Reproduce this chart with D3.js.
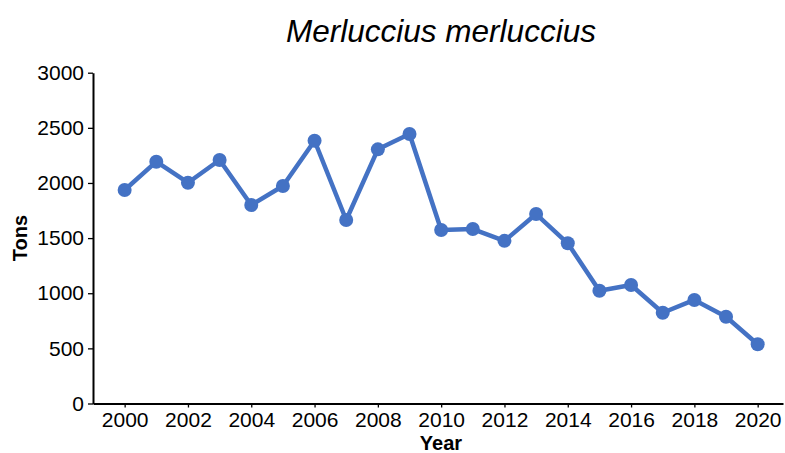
<!DOCTYPE html>
<html>
<head>
<meta charset="utf-8">
<script src="https://cdn.jsdelivr.net/npm/d3@7"></script>
<style>
  html, body { margin: 0; padding: 0; background: #fff; }
  text { font-family: "Liberation Sans", Arial, sans-serif; }
</style>
</head>
<body>
<svg id="chart" width="785" height="453"></svg>
<script>
const years = [2000,2001,2002,2003,2004,2005,2006,2007,2008,2009,2010,2011,2012,2013,2014,2015,2016,2017,2018,2019,2020];
const tons = [1936,2193,2002,2208,1800,1972,2383,1664,2305,2444,1573,1582,1475,1718,1453,1023,1075,823,939,787,537];
const xTicks = [2000,2002,2004,2006,2008,2010,2012,2014,2016,2018,2020];
const yTicks = [0,500,1000,1500,2000,2500,3000];
const title = "Merluccius merluccius";
const xLabel = "Year";
const yLabel = "Tons";

const svg = d3.select("#chart");
const x = d3.scaleLinear().domain([1999, 2020.8]).range([93, 783]);
const y = d3.scaleLinear().domain([0, 3000]).range([403.5, 72.7]);
const color = "#4472C4";

const xAxis = svg.append("g").attr("transform", `translate(0,${y(0)})`)
  .call(d3.axisBottom(x).tickValues(xTicks).tickFormat(d3.format("d")).tickSize(4).tickSizeOuter(0));
const yAxis = svg.append("g").attr("transform", `translate(${x(1999)},0)`)
  .call(d3.axisLeft(y).tickValues(yTicks).tickFormat(d3.format("d")).tickSize(5).tickSizeOuter(0));

[xAxis, yAxis].forEach(g => {
  g.select(".domain").attr("stroke", "#000").attr("stroke-width", 2);
  g.selectAll(".tick line").attr("stroke", "#000").attr("stroke-width", 1.3);
  g.selectAll(".tick text").attr("fill", "#000").style("font-size", "21px")
    .style("font-family", "'Liberation Sans', Arial, sans-serif");
});
xAxis.selectAll(".tick text").attr("dy", "0.71em").attr("y", 9);
yAxis.selectAll(".tick text").attr("x", -9);

const line = d3.line().x((d, i) => x(years[i])).y(d => y(d));
svg.append("path").datum(tons).attr("d", line)
  .attr("fill", "none").attr("stroke", color).attr("stroke-width", 4.5)
  .attr("stroke-linejoin", "round");

svg.selectAll("circle.pt").data(tons).enter().append("circle")
  .attr("class", "pt").attr("cx", (d, i) => x(years[i])).attr("cy", d => y(d))
  .attr("r", 7).attr("fill", color);

svg.append("text").attr("x", 441).attr("y", 42).attr("text-anchor", "middle")
  .style("font-size", "31.5px").style("font-style", "italic").attr("fill", "#000").text(title);

svg.append("text").attr("x", 441).attr("y", 450).attr("text-anchor", "middle")
  .style("font-size", "20px").style("font-weight", "bold").attr("fill", "#000").text(xLabel);

svg.append("text").attr("transform", "translate(27,238) rotate(-90)").attr("text-anchor", "middle")
  .style("font-size", "20px").style("font-weight", "bold").attr("fill", "#000").text(yLabel);
</script>
</body>
</html>
